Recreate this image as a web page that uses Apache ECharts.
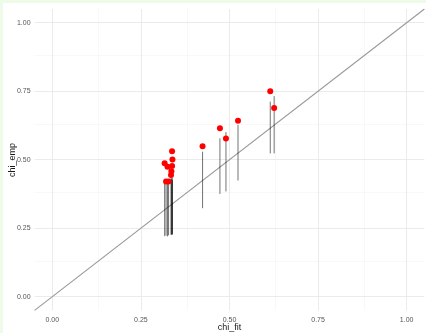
<!DOCTYPE html>
<html>
<head>
<meta charset="utf-8">
<script src="https://cdn.jsdelivr.net/npm/echarts@6/dist/echarts.min.js"></script>
<style>
  html, body { margin: 0; padding: 0; background: #eefbe9; }
  #chart { position: absolute; left: 3px; top: 3px; width: 423px; height: 330px; background: #ffffff; }
</style>
</head>
<body>
<div id="chart"></div>
<script>
// Fitted vs. empirical chi, with intervals around each fitted value
const chiFit = [0.317, 0.321, 0.325, 0.328, 0.335, 0.336, 0.338, 0.338, 0.339, 0.424, 0.473, 0.490, 0.524, 0.615, 0.626];
const chiEmp = [0.487, 0.420, 0.474, 0.420, 0.444, 0.458, 0.531, 0.477, 0.501, 0.549, 0.615, 0.577, 0.642, 0.750, 0.689];
const lower  = [0.221, 0.223, 0.220, 0.224, 0.226, 0.227, 0.228, 0.225, 0.229, 0.323, 0.375, 0.384, 0.424, 0.523, 0.523];
const upper  = [0.430, 0.425, 0.428, 0.422, 0.433, 0.428, 0.436, 0.431, 0.426, 0.529, 0.578, 0.601, 0.627, 0.712, 0.732];

const majorBreaks = [0, 0.25, 0.5, 0.75, 1];
const minorBreaks = [0.125, 0.375, 0.625, 0.875];
const axisRange = [-0.05, 1.05];
const xTitle = 'chi_fit';
const yTitle = 'chi_emp';

const chart = echarts.init(document.getElementById('chart'));

function gridLines(breaks, color, width) {
  const lines = [];
  breaks.forEach(v => {
    lines.push({ xAxis: v, lineStyle: { color: color, width: width, type: 'solid' } });
    lines.push({ yAxis: v, lineStyle: { color: color, width: width, type: 'solid' } });
  });
  return lines;
}

const font = 'Liberation Sans, Arial, sans-serif';

const axisCommon = {
  type: 'value',
  min: axisRange[0],
  max: axisRange[1],
  axisLine: { show: false },
  axisTick: { show: false },
  splitLine: { show: false },
  axisLabel: {
    customValues: majorBreaks,
    formatter: v => v.toFixed(2),
    fontFamily: font,
    fontSize: 7,
    color: '#555'
  }
};

chart.setOption({
  animation: false,
  grid: { left: 31.6, right: 1.6, top: 6, bottom: 22.6, containLabel: false, outerBoundsMode: 'none' },
  xAxis: Object.assign({}, axisCommon, {
    axisLabel: Object.assign({}, axisCommon.axisLabel, { margin: 6 })
  }),
  yAxis: Object.assign({}, axisCommon, {
    axisLabel: Object.assign({}, axisCommon.axisLabel, { margin: 4 })
  }),
  graphic: [
    {
      type: 'text',
      x: 226.5, y: 325,
      style: { text: xTitle, font: '9px ' + font, fill: '#1a1a1a', align: 'center', verticalAlign: 'middle' }
    },
    {
      type: 'text',
      x: 9.3, y: 157,
      rotation: Math.PI / 2,
      style: { text: yTitle, font: '9px ' + font, fill: '#1a1a1a', align: 'center', verticalAlign: 'middle' }
    }
  ],
  series: [
    {
      // grid lines and the identity line
      type: 'line',
      data: [[axisRange[0], axisRange[0]], [axisRange[1], axisRange[1]]],
      showSymbol: false,
      lineStyle: { color: '#999999', width: 1.1 },
      z: 2,
      silent: true,
      markLine: {
        silent: true,
        symbol: 'none',
        label: { show: false },
        z: 1,
        data: gridLines(minorBreaks, '#f4f4f4', 0.6).concat(gridLines(majorBreaks, '#ebebeb', 1))
      }
    },
    {
      type: 'custom',
      z: 3,
      data: chiFit.map((x, i) => [x, lower[i], upper[i]]),
      renderItem: function (params, api) {
        const p0 = api.coord([api.value(0), api.value(1)]);
        const p1 = api.coord([api.value(0), api.value(2)]);
        return {
          type: 'line',
          shape: { x1: p0[0], y1: p0[1], x2: p1[0], y2: p1[1] },
          style: { stroke: 'rgba(0,0,0,0.55)', lineWidth: 1 }
        };
      }
    },
    {
      type: 'scatter',
      z: 4,
      data: chiFit.map((x, i) => [x, chiEmp[i]]),
      symbolSize: 6,
      itemStyle: { color: '#ff0000', opacity: 1 }
    }
  ]
});
</script>
</body>
</html>
